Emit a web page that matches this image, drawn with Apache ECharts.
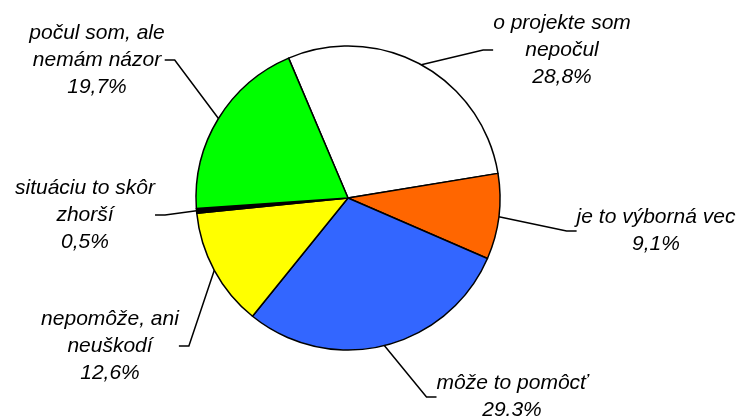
<!DOCTYPE html>
<html>
<head>
<meta charset="utf-8">
<script src="https://cdn.jsdelivr.net/npm/echarts@6/dist/echarts.min.js"></script>
<style>
  html, body { margin: 0; padding: 0; background: #fff; }
  #chartPie { width: 738px; height: 418px; }
</style>
</head>
<body>
<div id="chartPie"></div>
<script>
  // slices, clockwise from the top
  const categories = ['o projekte som\nnepočul', 'je to výborná vec', 'môže to pomôcť', 'nepomôže, ani\nneuškodí', 'situáciu to skôr\nzhorší', 'počul som, ale\nnemám názor'];
  const values = [28.8, 9.1, 29.3, 12.6, 0.5, 19.7];
  const valueLabels = ['28,8%', '9,1%', '29.3%', '12,6%', '0,5%', '19,7%'];
  const colors = ['#ffffff', '#ff6600', '#3366ff', '#ffff00', '#000000', '#00ff00'];

  // where each label block sits (center x, middle y)
  const labelPos = [[562, 50], [656, 231], [512, 397], [110, 346], [85, 215], [97, 60]];

  const chartPie = echarts.init(document.getElementById('chartPie'));
  chartPie.setOption({
    animation: false,
    series: [
      {
        name: 'odpovede',
        type: 'pie',
        center: [348, 198],
        radius: 152,
        startAngle: 113,
        clockwise: true,
        data: categories.map((c, i) => ({
          name: c,
          value: values[i],
          itemStyle: { color: colors[i] }
        })),
        itemStyle: {
          borderColor: '#000',
          borderWidth: 1.5
        },
        label: {
          show: true,
          position: 'outside',
          formatter: p => p.name + '\n' + valueLabels[p.dataIndex],
          fontFamily: 'Liberation Sans, Arial, sans-serif',
          fontStyle: 'italic',
          fontSize: 21,
          lineHeight: 27,
          color: '#000',
          align: 'center'
        },
        labelLine: {
          show: true,
          length: 20,
          length2: 10,
          lineStyle: { color: '#000', width: 1.5 }
        },
        labelLayout: function (params) {
          const p = labelPos[params.dataIndex];
          return {
            x: p[0],
            y: p[1],
            align: 'center',
            verticalAlign: 'middle'
          };
        }
      }
    ]
  });
</script>
</body>
</html>
